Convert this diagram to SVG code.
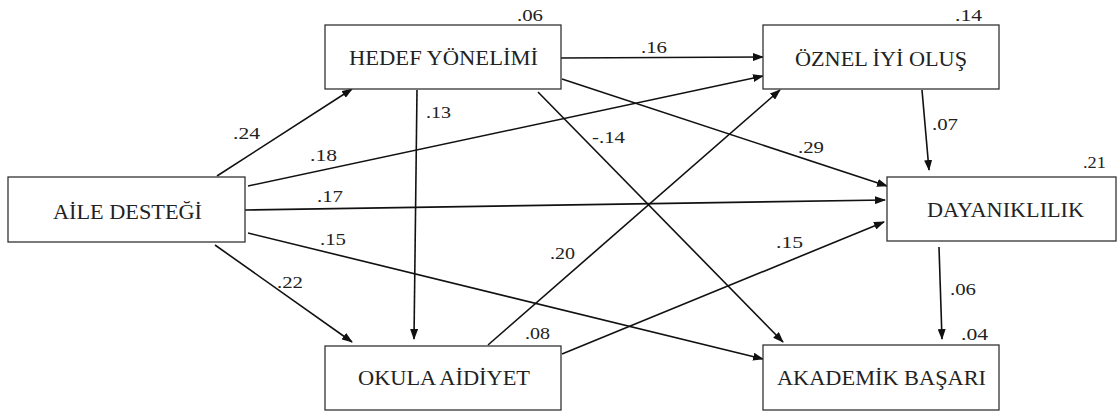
<svg xmlns="http://www.w3.org/2000/svg" width="1118" height="413" viewBox="0 0 1118 413">
<style>
.box{fill:#fff;stroke:#333;stroke-width:1.3}
.nt{font-family:"Liberation Serif","Times New Roman",serif;font-size:20px;fill:#222}
.lb{font-family:"Liberation Serif","Times New Roman",serif;font-size:17px;fill:#222}
.ln{stroke:#111;stroke-width:1.6;fill:none;marker-end:url(#ah)}
</style>
<defs>
<marker id="ah" markerUnits="userSpaceOnUse" markerWidth="11" markerHeight="8" refX="10" refY="4" orient="auto">
<path d="M0,0 L11,4 L0,8 z" fill="#111"/>
</marker>
</defs>
<rect width="1118" height="413" fill="#fff"/>
<g id="connectors">
<line class="ln" x1="217" y1="176" x2="352" y2="89"/>
<line class="ln" x1="248" y1="186" x2="763" y2="76"/>
<line class="ln" x1="245" y1="210" x2="885" y2="200"/>
<line class="ln" x1="248" y1="233" x2="763" y2="359"/>
<line class="ln" x1="215" y1="245" x2="352" y2="342"/>
<line class="ln" x1="417" y1="90" x2="414" y2="339"/>
<line class="ln" x1="561" y1="58" x2="763" y2="57"/>
<line class="ln" x1="562" y1="79" x2="887" y2="186"/>
<line class="ln" x1="538" y1="92" x2="783" y2="342"/>
<line class="ln" x1="488" y1="345" x2="780" y2="90"/>
<line class="ln" x1="562" y1="354" x2="884" y2="222"/>
<line class="ln" x1="922" y1="90" x2="929" y2="170"/>
<line class="ln" x1="939" y1="247" x2="942" y2="339"/>
<text class="lb" x="233" y="139" textLength="27" lengthAdjust="spacingAndGlyphs">.24</text>
<text class="lb" x="310" y="161" textLength="27" lengthAdjust="spacingAndGlyphs">.18</text>
<text class="lb" x="426" y="118" textLength="25" lengthAdjust="spacingAndGlyphs">.13</text>
<text class="lb" x="317" y="202" textLength="26" lengthAdjust="spacingAndGlyphs">.17</text>
<text class="lb" x="320" y="245" textLength="26" lengthAdjust="spacingAndGlyphs">.15</text>
<text class="lb" x="277" y="288" textLength="26" lengthAdjust="spacingAndGlyphs">.22</text>
<text class="lb" x="550" y="259" textLength="25" lengthAdjust="spacingAndGlyphs">.20</text>
<text class="lb" x="592" y="143" textLength="33" lengthAdjust="spacingAndGlyphs">-.14</text>
<text class="lb" x="798" y="153" textLength="26" lengthAdjust="spacingAndGlyphs">.29</text>
<text class="lb" x="641" y="53" textLength="26" lengthAdjust="spacingAndGlyphs">.16</text>
<text class="lb" x="932" y="130" textLength="26" lengthAdjust="spacingAndGlyphs">.07</text>
<text class="lb" x="950" y="295" textLength="26" lengthAdjust="spacingAndGlyphs">.06</text>
<text class="lb" x="776" y="248" textLength="27" lengthAdjust="spacingAndGlyphs">.15</text>
</g>
<g id="aile">
<rect class="box" x="8" y="177" width="237" height="65"/>
<text class="nt" x="53" y="219" textLength="149" lengthAdjust="spacingAndGlyphs">AİLE DESTEĞİ</text>
</g>
<g id="hedef">
<rect class="box" x="325" y="25" width="236" height="64"/>
<text class="nt" x="349" y="65" textLength="189" lengthAdjust="spacingAndGlyphs">HEDEF YÖNELİMİ</text>
<text class="lb" x="517" y="21" textLength="26" lengthAdjust="spacingAndGlyphs">.06</text>
</g>
<g id="oznel">
<rect class="box" x="763" y="25" width="236" height="64"/>
<text class="nt" x="795" y="66" textLength="172" lengthAdjust="spacingAndGlyphs">ÖZNEL İYİ OLUŞ</text>
<text class="lb" x="955" y="21" textLength="27" lengthAdjust="spacingAndGlyphs">.14</text>
</g>
<g id="dayaniklilik">
<rect class="box" x="887" y="177" width="229" height="64"/>
<text class="nt" x="927" y="217" textLength="157" lengthAdjust="spacingAndGlyphs">DAYANIKLILIK</text>
<text class="lb" x="1083" y="168" textLength="23" lengthAdjust="spacingAndGlyphs">.21</text>
</g>
<g id="okula">
<rect class="box" x="325" y="346" width="236" height="64"/>
<text class="nt" x="358" y="385" textLength="172" lengthAdjust="spacingAndGlyphs">OKULA AİDİYET</text>
<text class="lb" x="525" y="339" textLength="25" lengthAdjust="spacingAndGlyphs">.08</text>
</g>
<g id="akademik">
<rect class="box" x="763" y="345" width="236" height="65"/>
<text class="nt" x="777" y="385" textLength="209" lengthAdjust="spacingAndGlyphs">AKADEMİK BAŞARI</text>
<text class="lb" x="961" y="340" textLength="27" lengthAdjust="spacingAndGlyphs">.04</text>
</g>
</svg>
